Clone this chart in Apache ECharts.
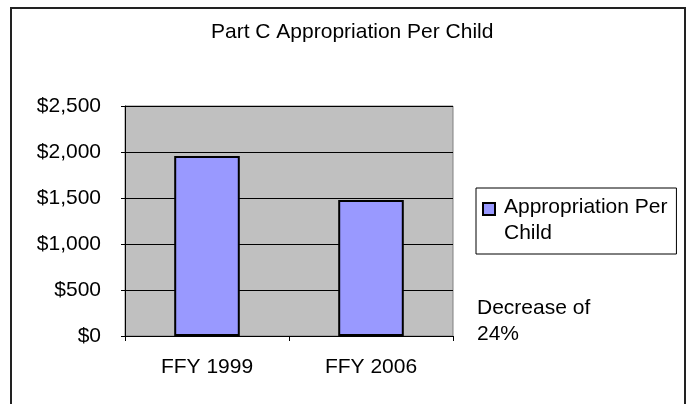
<!DOCTYPE html>
<html>
<head>
<meta charset="utf-8">
<script src="https://cdn.jsdelivr.net/npm/echarts@6/dist/echarts.min.js"></script>
<style>
html,body{margin:0;padding:0;background:#fff;}
#c{width:691px;height:404px;}
</style>
</head>
<body>
<div id="c"></div>
<script>
const titleText = 'Part C Appropriation Per Child';
const categories = ['FFY 1999', 'FFY 2006'];
const seriesName = 'Appropriation Per Child';
const values = [1957, 1478];
const yTicks = [0, 500, 1000, 1500, 2000, 2500];
const note = 'Decrease of\n24%';

const FONT = "'Liberation Sans', Arial, sans-serif";
const FS = 21;
const chart = echarts.init(document.getElementById('c'), null, {renderer: 'canvas'});
chart.setOption({
  animation: false,
  backgroundColor: '#fff',
  textStyle: {fontFamily: FONT},
  title: {
    text: titleText,
    left: 206, top: 17,
    textStyle: {fontFamily: FONT, fontSize: FS, fontWeight: 'normal', color: '#000'}
  },
  grid: {
    left: 125, top: 106, width: 328, height: 230,
    show: true, backgroundColor: '#C0C0C0', borderColor: '#808080', borderWidth: 1
  },
  legend: {
    left: 476, top: 188,
    orient: 'vertical',
    data: [seriesName],
    formatter: () => 'Appropriation Per\nChild',
    borderColor: '#000', borderWidth: 1,
    padding: [6, 9, 8, 6],
    itemWidth: 12, itemHeight: 34,
    itemGap: 0,
    icon: 'path://M0,0L12,0L12,12L0,12ZM0,34',
    textStyle: {fontFamily: FONT, fontSize: FS, color: '#000', lineHeight: 26, padding: [0,0,0,4]}
  },
  xAxis: {
    type: 'category',
    data: categories,
    axisLine: {lineStyle: {color: '#000', width: 1}},
    axisTick: {show: true, length: 5, lineStyle: {color: '#000'}},
    axisLabel: {fontFamily: FONT, fontSize: FS, color: '#000', margin: 21},
    splitLine: {show: false}
  },
  yAxis: {
    type: 'value',
    min: yTicks[0], max: yTicks[yTicks.length - 1], interval: yTicks[1] - yTicks[0],
    axisLine: {show: true, lineStyle: {color: '#000', width: 1}},
    axisTick: {show: true, length: 4, lineStyle: {color: '#000'}},
    axisLabel: {
      fontFamily: FONT, fontSize: FS, color: '#000', margin: 24,
      formatter: v => '$' + v.toLocaleString('en-US')
    },
    splitLine: {show: true, lineStyle: {color: '#000', width: 1}}
  },
  series: [{
    name: seriesName,
    type: 'bar',
    data: values,
    barCategoryGap: '60%',
    itemStyle: {color: '#9999FF', borderColor: '#000', borderWidth: 2}
  }],
  graphic: [
    {
      type: 'rect', silent: true, z: 100,
      shape: {x: 11, y: 8, width: 674, height: 430},
      style: {fill: 'none', stroke: '#222', lineWidth: 2}
    },
    {
      type: 'text', left: 477, top: 295,
      style: {text: note, font: "21px 'Liberation Sans', Arial, sans-serif", fill: '#000', lineHeight: 26}
    }
  ]
});
</script>
</body>
</html>
